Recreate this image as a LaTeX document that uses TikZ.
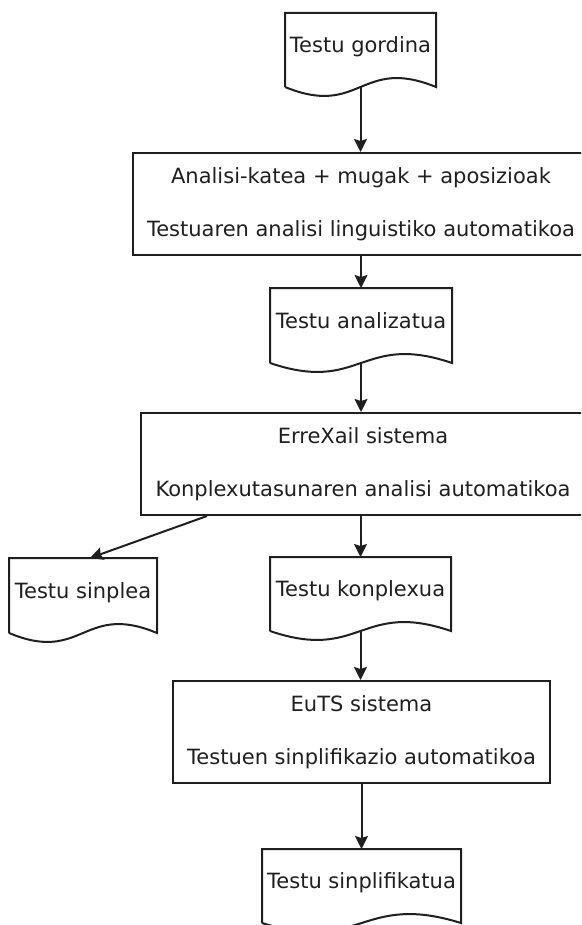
\documentclass[tikz,border=0pt]{standalone}
\usepackage{fontspec}
\setmainfont{DejaVu Sans}
\usetikzlibrary{arrows.meta}

\tikzset{
	doc/.style={inner sep=2pt, text height=15pt, text depth=10pt},
	box/.style={draw, align=center, inner sep=0pt, minimum height=102pt},
	arr/.style={-{Stealth[length=13pt,width=13pt,inset=2pt]}},
}

\begin{document}
\begin{tikzpicture}[x=1pt,y=-1pt,line width=2pt,color=black!88,font=\fontsize{21}{25}\selectfont]
	\clip (0,0) rectangle (581,925);
	\node[doc, minimum width=149pt, minimum height=72pt] (gordina) at (360.5,50) {Testu gordina};
	\node[box, minimum width=456pt] (analisi) at (361,204) {Analisi-katea + mugak + aposizioak\\[28pt]Testuaren analisi linguistiko automatikoa};
	\node[doc, minimum width=180pt, minimum height=73pt] (analizatua) at (361,325.5) {Testu analizatua};
	\node[box, minimum width=444pt] (errexail) at (363,464) {ErreXail sistema\\[28pt]Konplexutasunaren analisi automatikoa};
	\node[doc, minimum width=146pt, minimum height=73pt] (sinplea) at (83,595.5) {Testu sinplea};
	\node[doc, minimum width=179pt, minimum height=72pt] (konplexua) at (360.5,594) {Testu konplexua};
	\node[box, minimum width=377pt] (euts) at (361.5,732) {EuTS sistema\\[28pt]Testuen sinplifikazio automatikoa};
	\node[doc, minimum width=197pt, minimum height=72pt] (sinplifikatua) at (361.5,886) {Testu sinplifikatua};

	\foreach \n in {gordina,analizatua,sinplea,konplexua,sinplifikatua}
		\draw (\n.south west) -- (\n.north west) -- (\n.north east) -- (\n.south east) .. controls ([yshift=31pt]\n.south) and ([yshift=-31pt]\n.south) .. (\n.south west);

	\draw[arr] (gordina.south) -- (gordina.south |- analisi.north);
	\draw[arr] (analizatua.north |- analisi.south) -- (analizatua.north);
	\draw[arr] (analizatua.south) -- (analizatua.south |- errexail.north);
	\draw[arr] (konplexua.north |- errexail.south) -- (konplexua.north);
	\draw[arr] ([xshift=67pt]errexail.south west) -- ([xshift=7pt]sinplea.north);
	\draw[arr] (konplexua.south) -- (konplexua.south |- euts.north);
	\draw[arr] (sinplifikatua.north |- euts.south) -- (sinplifikatua.north);
\end{tikzpicture}
\end{document}
